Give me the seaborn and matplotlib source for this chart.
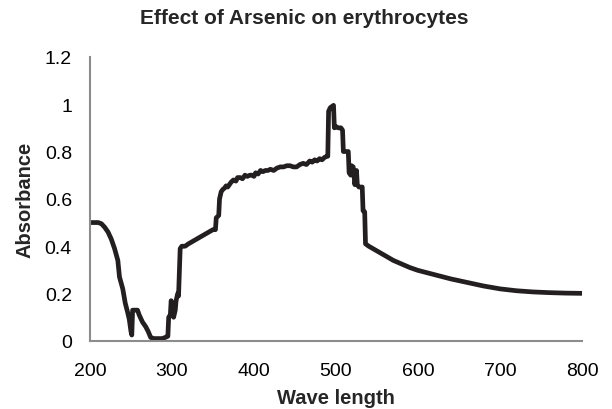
import matplotlib
matplotlib.use("Agg")
import matplotlib.pyplot as plt
import seaborn as sns
import pandas as pd

wavelength = [200, 205, 210, 214, 218, 222, 226, 230, 234, 236, 240, 243, 246, 248, 250, 251, 252, 255, 258,
              260, 264, 268, 271, 274, 278, 283, 288, 292, 295, 296, 298, 299, 301, 302, 304, 305, 307, 308,
              310, 312, 316, 320, 325, 330, 335, 340, 345, 350, 353, 354, 357, 358, 360, 362, 364, 366, 368,
              370, 372, 375, 378, 380, 383, 386, 389, 392, 395, 398, 400, 402, 405, 408, 411, 414, 417, 420,
              424, 428, 432, 436, 440, 444, 448, 452, 456, 460, 464, 468, 471, 474, 477, 480, 483, 486, 489,
              490, 491, 493, 495, 497, 498, 500, 503, 506, 508, 509, 512, 515, 516, 518, 519, 521, 522, 523,
              525, 526, 528, 530, 532, 533, 535, 536, 540, 550, 560, 570, 580, 590, 600, 620, 640, 660, 680,
              700, 720, 740, 760, 780, 800]
absorbance = [0.50, 0.50, 0.50, 0.495, 0.48, 0.46, 0.43, 0.39, 0.34, 0.27, 0.22, 0.16, 0.12, 0.09, 0.04, 0.025,
              0.13, 0.13, 0.13, 0.11, 0.08, 0.06, 0.04, 0.015, 0.01, 0.01, 0.01, 0.015, 0.02, 0.10, 0.11, 0.17,
              0.14, 0.10, 0.13, 0.17, 0.20, 0.19, 0.39, 0.40, 0.40, 0.41, 0.42, 0.43, 0.44, 0.45, 0.46, 0.47,
              0.47, 0.52, 0.53, 0.60, 0.63, 0.64, 0.645, 0.655, 0.65, 0.66, 0.67, 0.68, 0.675, 0.69, 0.69,
              0.685, 0.70, 0.695, 0.70, 0.70, 0.695, 0.71, 0.705, 0.72, 0.715, 0.72, 0.72, 0.725, 0.72, 0.73,
              0.735, 0.735, 0.74, 0.74, 0.735, 0.735, 0.745, 0.75, 0.745, 0.76, 0.755, 0.765, 0.76, 0.77,
              0.765, 0.775, 0.78, 0.78, 0.97, 0.985, 0.99, 0.995, 0.90, 0.905, 0.90, 0.90, 0.89, 0.80, 0.80,
              0.80, 0.71, 0.70, 0.74, 0.735, 0.70, 0.66, 0.72, 0.66, 0.65, 0.65, 0.65, 0.55, 0.545, 0.41,
              0.40, 0.38, 0.36, 0.34, 0.325, 0.31, 0.298, 0.28, 0.262, 0.247, 0.232, 0.22, 0.212, 0.207,
              0.204, 0.202, 0.201]

x_ticks = [200, 300, 400, 500, 600, 700, 800]
x_tick_labels = ["200", "300", "400", "500", "600", "700", "800"]
y_ticks = [0, 0.2, 0.4, 0.6, 0.8, 1.0, 1.2]
y_tick_labels = ["0", "0.2", "0.4", "0.6", "0.8", "1", "1.2"]

title = "Effect of Arsenic on erythrocytes"
x_label = "Wave length"
y_label = "Absorbance"

sns.set_style("white")
plt.rcParams["font.family"] = ["Liberation Sans", "DejaVu Sans"]

df = pd.DataFrame({"wavelength": wavelength, "absorbance": absorbance})

fig = plt.figure(figsize=(6.12, 4.10), dpi=100)
ax = fig.add_axes([0.147, 0.166, 0.804, 0.693])

sns.lineplot(data=df, x="wavelength", y="absorbance", estimator=None, sort=False,
             color="#231f20", linewidth=3.4, ax=ax)

ax.set_xlim(200, 800)
ax.set_ylim(0, 1.2)
ax.set_xticks(x_ticks)
ax.set_xticklabels(x_tick_labels)
ax.set_yticks(y_ticks)
ax.set_yticklabels(y_tick_labels)
ax.tick_params(axis="both", length=0, labelsize=14, colors="black")
ax.tick_params(axis="x", pad=15.5)
ax.tick_params(axis="y", pad=13)

for s in ["top", "right"]:
    ax.spines[s].set_visible(False)
for s in ["left", "bottom"]:
    ax.spines[s].set_color("#8c8c8c")
    ax.spines[s].set_linewidth(1.5)

ax.set_xlabel(x_label, fontsize=14.5, fontweight="bold")
ax.xaxis.label.set_va("baseline")
ax.xaxis.set_label_coords(0.5, -0.218)
ax.set_ylabel(y_label, fontsize=14.5, fontweight="bold")
ax.yaxis.label.set_va("center")
ax.yaxis.set_label_coords(-0.132, 0.5)
fig.suptitle(title, fontsize=15, fontweight="bold", x=0.497, y=0.954, va="center")

fig.savefig("out.png", dpi=100)
